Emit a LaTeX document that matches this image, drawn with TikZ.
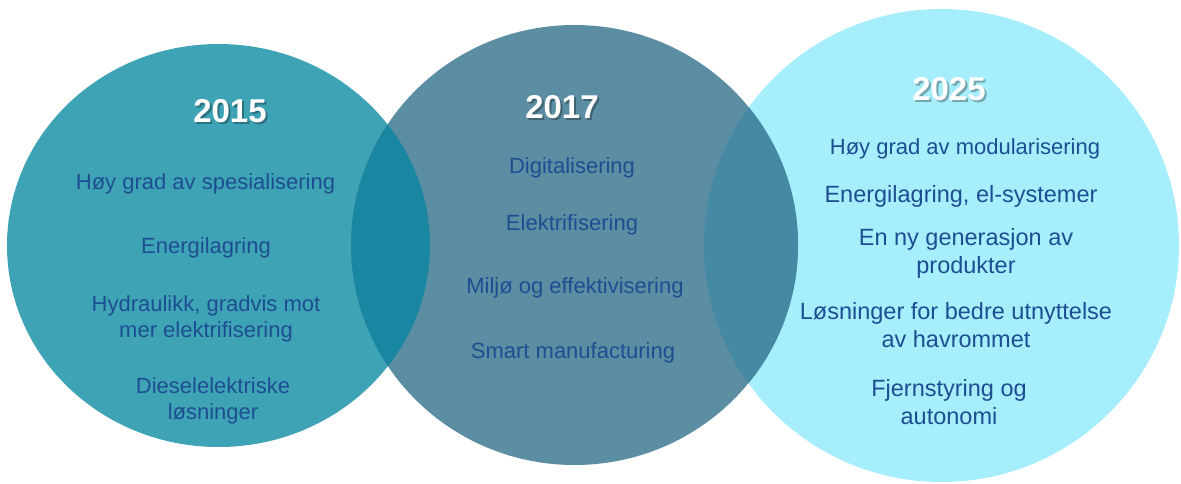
\documentclass[tikz,border=0pt]{standalone}
\usepackage{fontspec}
\setmainfont{Liberation Sans}
\usepackage{xcolor}
\definecolor{tealA}{HTML}{3FA3B6}
\definecolor{slateB}{HTML}{5B8EA3}
\definecolor{skyC}{HTML}{A6EEFC}
\definecolor{tealAB}{HTML}{1987A1}
\definecolor{slateBC}{HTML}{4689A3}
\definecolor{itemblue}{HTML}{1D4E92}
\tikzset{
    year/.style={text=white, font=\bfseries\fontsize{33}{36}\selectfont},
    yearshade/.style={text=black, opacity=0.3, font=\bfseries\fontsize{33}{36}\selectfont},
    item/.style={text=itemblue, align=center, anchor=base, font=\fontsize{22}{26}\selectfont},
    itembig/.style={item, font=\fontsize{23.5}{28}\selectfont},
}
\begin{document}
\begin{tikzpicture}[x=1pt,y=-1pt]
    \useasboundingbox (0,0) rectangle (1181,483);
    % circle centres and radii (px)
    \def\ax{218.5}
    \def\ay{245.5}
    \def\bx{574.5}
    \def\by{245}
    \def\cx{941.5}
    \def\cy{245.5}
    \fill[skyC] (\cx,\cy) ellipse [x radius=237.5, y radius=236.5];
    \fill[tealA] (\ax,\ay) ellipse [x radius=211.5, y radius=201.5];
    \fill[slateB] (\bx,\by) ellipse [x radius=223.5, y radius=220];
    % overlaps
    \begin{scope}
        \clip (\ax,\ay) ellipse [x radius=211.5, y radius=201.5];
        \fill[tealAB] (\bx,\by) ellipse [x radius=223.5, y radius=220];
    \end{scope}
    \begin{scope}
        \clip (\cx,\cy) ellipse [x radius=237.5, y radius=236.5];
        \fill[slateBC] (\bx,\by) ellipse [x radius=223.5, y radius=220];
    \end{scope}
    % years
    \node[yearshade] (y15s) at (232,113) {2015};
    \node[year] (y15) at (230,111) {2015};
    \node[yearshade] (y17s) at (564,109) {2017};
    \node[year] (y17) at (562,107) {2017};
    \node[yearshade] (y25s) at (951,91) {2025};
    \node[year] (y25) at (949,89) {2025};
    % 2015 (base = last line)
    \node[item] (a1) at (205.5,189) {Høy grad av spesialisering};
    \node[item] (a2) at (206,253) {Energilagring};
    \node[item] (a3) at (206,337) {Hydraulikk, gradvis mot\\mer elektrifisering};
    \node[item] (a4) at (213,419) {Dieselelektriske\\løsninger};
    % 2017
    \node[item] (b1) at (572,173) {Digitalisering};
    \node[item] (b2) at (572,230) {Elektrifisering};
    \node[item] (b3) at (575,293) {Miljø og effektivisering};
    \node[item] (b4) at (573,358) {Smart manufacturing};
    % 2025
    \node[item] (c1) at (965,154) {Høy grad av modularisering};
    \node[itembig] (c2) at (961,202) {Energilagring, el-systemer};
    \node[itembig] (c3) at (966,273) {En ny generasjon av\\produkter};
    \node[itembig] (c4) at (956,347) {Løsninger for bedre utnyttelse\\av havrommet};
    \node[itembig] (c5) at (949,424) {Fjernstyring og\\autonomi};
\end{tikzpicture}
\end{document}
